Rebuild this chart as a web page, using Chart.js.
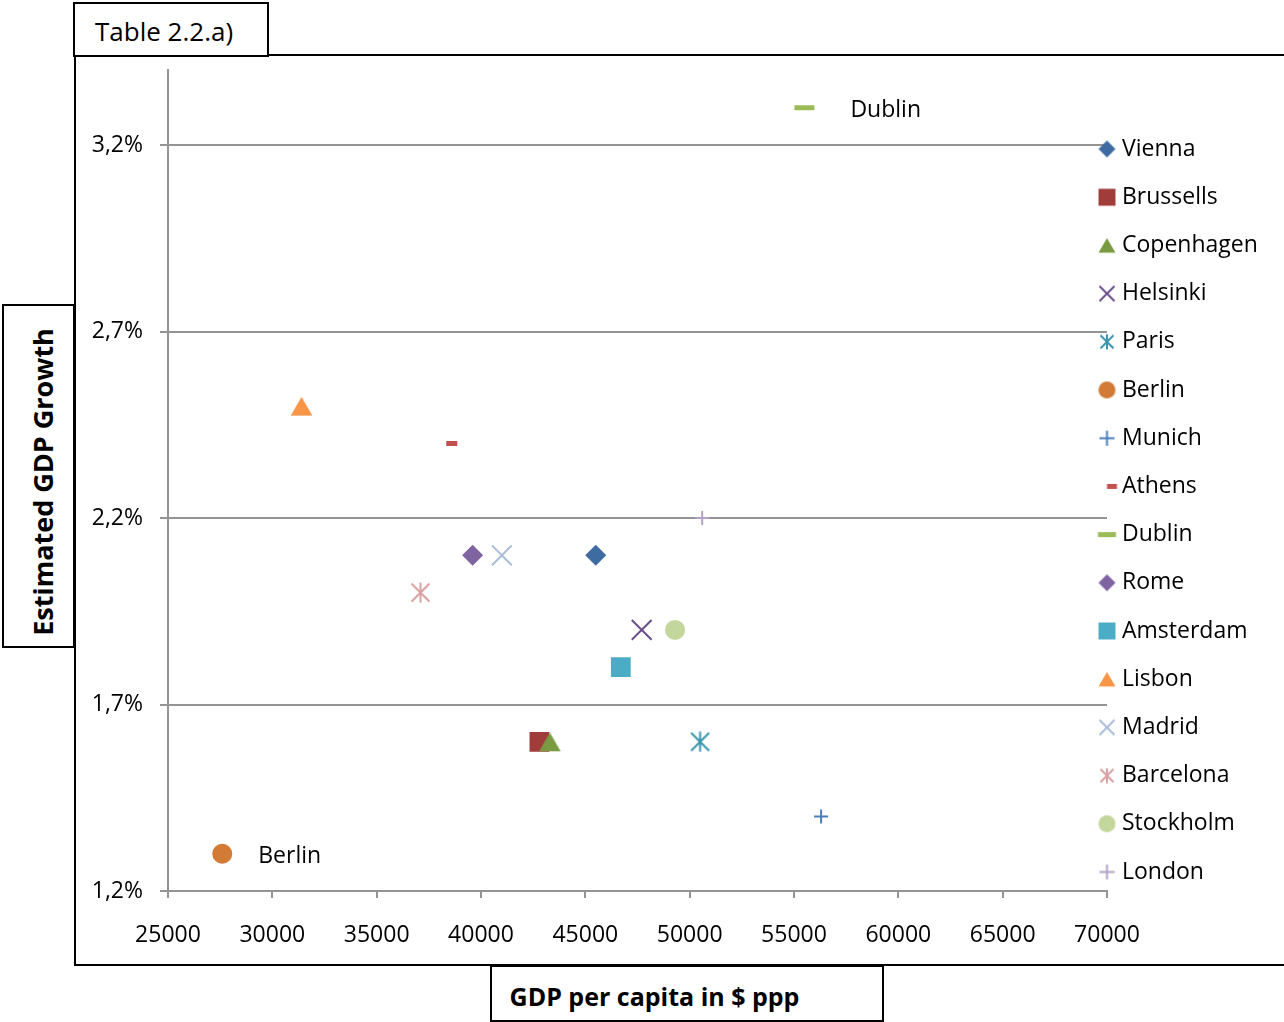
<!DOCTYPE html>
<html>
<head>
<meta charset="utf-8">
<script src="https://cdn.jsdelivr.net/npm/chart.js@4/dist/chart.umd.min.js"></script>
<style>
  html, body { margin: 0; padding: 0; background: #fff; }
  body { width: 1284px; height: 1022px; position: relative; overflow: hidden;
         font-family: 'Open Sans', sans-serif; color: #000; }
  .frame { position: absolute; left: 74px; top: 54px; width: 1300px; height: 912px;
           box-sizing: border-box; border: 2px solid #000; }
  #chart { position: absolute; left: 0; top: 0; }
  .box { position: absolute; box-sizing: border-box; border: 2px solid #000; background: #fff; }
  .txt { position: absolute; white-space: nowrap; line-height: 1; }
</style>
</head>
<body>
<div class="frame"></div>
<canvas id="chart" width="1284" height="1022"></canvas>

<div class="box" style="left:73px; top:2px; width:196px; height:55px;"></div>
<div class="txt" style="left:95px; top:18px; font-size:26px;">Table 2.2.a)</div>

<div class="box" style="left:2px; top:304px; width:73px; height:344px;"></div>
<div class="txt" style="left:41.7px; top:481.5px; font-size:27px; font-weight:bold; transform:translate(-50%,-50%) rotate(-90deg);">Estimated GDP Growth</div>

<div class="box" style="left:490px; top:965px; width:394px; height:57px;"></div>
<div class="txt" style="left:654.5px; top:983.5px; font-size:25px; font-weight:bold; transform:translateX(-50%);">GDP per capita in $ ppp</div>

<script>
// City data: GDP per capita ($ ppp) and estimated GDP growth (%)
const cities = ['Vienna', 'Brussells', 'Copenhagen', 'Helsinki', 'Paris', 'Berlin', 'Munich', 'Athens',
                'Dublin', 'Rome', 'Amsterdam', 'Lisbon', 'Madrid', 'Barcelona', 'Stockholm', 'London'];
const gdpPerCapita = [45500, 42800, 43300, 47700, 50500, 27600, 56300, 38600,
                      55500, 39600, 46700, 31400, 41000, 37100, 49300, 50600];
const gdpGrowth = [2.1, 1.6, 1.6, 1.9, 1.6, 1.3, 1.4, 2.4,
                   3.3, 2.1, 1.8, 2.5, 2.1, 2.0, 1.9, 2.2];

// Axis ticks
const xTicks = [25000, 30000, 35000, 40000, 45000, 50000, 55000, 60000, 65000, 70000];
const yTicks = [1.2, 1.7, 2.2, 2.7, 3.2];

// Cities whose name is written beside their marker
const annotatedCities = ['Berlin', 'Dublin'];

// Marker appearance per city
const markerShapes = ['rectRot', 'rect', 'triangle', 'crossRot', 'asterisk', 'circle', 'cross', 'line',
                      'line', 'rectRot', 'rect', 'triangle', 'crossRot', 'asterisk', 'circle', 'cross'];
const markerColors = ['#3E6BA2', '#A03C3A', '#7A9A42', '#6A4E8C', '#3A94AD', '#D27B36', '#4A7EBB', '#C0504D',
                      '#9BBB59', '#8064A2', '#4BACC6', '#F79646', '#A9BCDA', '#D9A19F', '#C3D69B', '#B3A2C7'];
const markerRadii = [10.5, 14, 12.5, 14, 10, 10, 7, 5.5,
                     10, 10.5, 14, 12.5, 14, 10, 10, 7];
const markerStrokes = [0, 0, 0, 2, 2, 0, 2, 5,
                       5, 0, 0, 0, 2, 2, 0, 2];
// Symbol sizes used in the legend column
const legendRadii = [8.5, 12, 9.8, 10.6, 8, 8.5, 7.5, 5,
                     9, 8.5, 12, 9.8, 10.6, 8, 8.5, 7.5];
const legendShiftX = [0, 0, 0, 0, 0, 0, 0, 5,
                      0, 0, 0, 0, 0, 0, 0, 0];

const FONT = "'Open Sans', sans-serif";
const GRID_GREY = '#949494';

// Six-armed asterisk marker (an X crossed by a vertical bar)
function asteriskMarker(color, size) {
  const c = document.createElement('canvas');
  c.width = size; c.height = size;
  const g = c.getContext('2d');
  g.strokeStyle = color;
  g.lineWidth = 2;
  const h = size / 2, a = 1.5, b = size - 1.5;
  g.beginPath();
  g.moveTo(h, 0.5); g.lineTo(h, size - 0.5);
  g.moveTo(a, a); g.lineTo(b, b);
  g.moveTo(b, a); g.lineTo(a, b);
  g.stroke();
  return c;
}

// Renders one of Chart.js' built-in point styles into a small canvas,
// centring the shape's bounding box (triangles are otherwise top-heavy)
function shapeIcon(style, radius, color, lineWidth, dx) {
  const size = Math.ceil(radius * 2 + lineWidth + 4 + Math.abs(dx || 0) * 2);
  const c = document.createElement('canvas');
  c.width = size; c.height = size;
  const g = c.getContext('2d');
  g.fillStyle = color;
  g.strokeStyle = color;
  g.lineWidth = lineWidth || 1;
  const dy = style === 'triangle' ? radius / 4 : 0;
  Chart.helpers.drawPoint(g, { pointStyle: style, radius, borderWidth: lineWidth, rotation: 0 },
                          size / 2 + (dx || 0), size / 2 + dy);
  return c;
}

function markerFor(i) {
  const s = markerShapes[i];
  if (s === 'asterisk') return asteriskMarker(markerColors[i], 21);
  if (s === 'triangle') return shapeIcon(s, markerRadii[i], markerColors[i], 0, 0);
  return s;
}

function legendIconFor(i) {
  const s = markerShapes[i];
  if (s === 'asterisk') return asteriskMarker(markerColors[i], Math.round(legendRadii[i] * 2));
  return shapeIcon(s, legendRadii[i], markerColors[i], markerStrokes[i], legendShiftX[i]);
}

const legendIcons = cities.map((c, i) => legendIconFor(i));

const datasets = cities.map((city, i) => ({
  label: city,
  data: [{ x: gdpPerCapita[i], y: gdpGrowth[i] }],
  order: cities.length - i,
  pointStyle: markerFor(i),
  pointRadius: markerRadii[i],
  pointHoverRadius: markerRadii[i],
  pointBackgroundColor: markerColors[i],
  pointBorderColor: markerColors[i],
  pointBorderWidth: markerStrokes[i],
  pointHoverBorderWidth: markerStrokes[i],
  backgroundColor: markerColors[i],
  borderColor: markerColors[i]
}));

// Places the legend column along the right end of the x axis
const legendPlacement = {
  id: 'legendPlacement',
  afterLayout(chart, args, opts) {
    const lg = chart.legend;
    if (!lg) return;
    const labels = chart.options.plugins.legend.labels;
    const w = lg.width;
    lg.left = chart.chartArea.right - labels.boxWidth / 2 - labels.padding;
    lg.right = lg.left + w;
    lg.top = opts.top;
    lg.bottom = chart.height;
    lg.height = lg.bottom - lg.top;
  }
};

// Writes the city name next to selected markers
const cityLabels = {
  id: 'cityLabels',
  afterDatasetsDraw(chart, args, opts) {
    const ctx = chart.ctx;
    ctx.save();
    ctx.font = opts.size + 'px ' + FONT;
    ctx.fillStyle = opts.color;
    ctx.textAlign = 'left';
    ctx.textBaseline = 'middle';
    chart.data.datasets.forEach((ds, i) => {
      if (!annotatedCities.includes(ds.label)) return;
      const el = chart.getDatasetMeta(i).data[0];
      ctx.fillText(ds.label, el.x + opts.gap[ds.label], el.y + opts.dy);
    });
    ctx.restore();
  }
};

const baseLabels = Chart.defaults.plugins.legend.labels.generateLabels;

new Chart(document.getElementById('chart'), {
  type: 'scatter',
  data: { datasets },
  plugins: [legendPlacement, cityLabels],
  options: {
    responsive: false,
    animation: false,
    devicePixelRatio: 1,
    events: [],
    layout: { padding: { left: 80, top: 70.4, right: 177, bottom: 71 } },
    scales: {
      x: {
        type: 'linear',
        min: 25000,
        max: 70000,
        afterBuildTicks: s => { s.ticks = xTicks.map(v => ({ value: v })); },
        afterFit: s => { s.height = 60; },
        grid: { drawOnChartArea: false, drawTicks: true, tickLength: 7, color: GRID_GREY, lineWidth: 2 },
        border: { display: true, color: GRID_GREY, width: 2 },
        ticks: {
          callback: v => String(v),
          color: '#000',
          font: { family: FONT, size: 23 },
          padding: 24,
          maxRotation: 0,
          autoSkip: false
        }
      },
      y: {
        type: 'linear',
        min: 1.2,
        max: 3.4,
        afterBuildTicks: s => { s.ticks = yTicks.map(v => ({ value: v })); },
        afterFit: s => { s.width = 88; },
        grid: { drawTicks: true, tickLength: 8, color: GRID_GREY, lineWidth: 2 },
        border: { display: true, color: GRID_GREY, width: 2 },
        ticks: {
          callback: v => v.toFixed(1).replace('.', ',') + '%',
          color: '#000',
          font: { family: FONT, size: 23 },
          padding: 17
        }
      }
    },
    plugins: {
      tooltip: { enabled: false },
      legendPlacement: { top: 112.3 },
      cityLabels: { size: 23, color: '#000', gap: { Berlin: 36, Dublin: 46 }, dy: 3 },
      legend: {
        position: 'chartArea',
        align: 'start',
        labels: {
          usePointStyle: true,
          boxWidth: 7,
          boxHeight: 12,
          padding: 25.2,
          color: '#000',
          font: { family: FONT, size: 23 },
          sort: (a, b) => a.datasetIndex - b.datasetIndex,
          generateLabels: chart => baseLabels(chart).map(item => {
            item.pointStyle = legendIcons[item.datasetIndex];
            return item;
          })
        }
      }
    }
  }
});
</script>
</body>
</html>
